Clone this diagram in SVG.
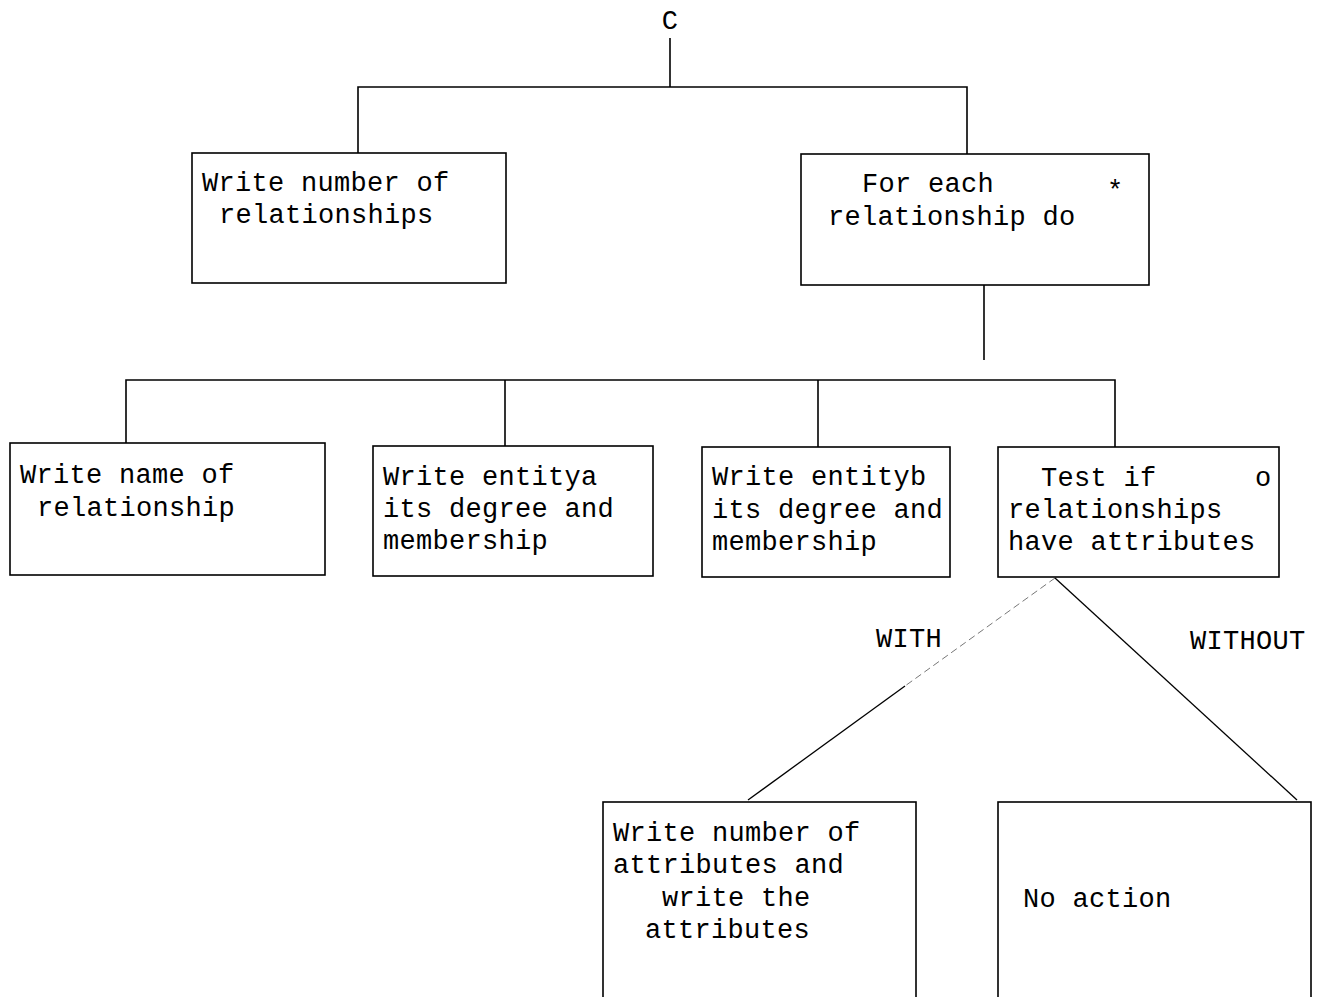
<svg xmlns="http://www.w3.org/2000/svg" width="1321" height="997" viewBox="0 0 1321 997">
  <style>
    .box { fill: none; stroke: #000; stroke-width: 1.6; }
    .ln { fill: none; stroke: #000; stroke-width: 1.6; }
    .thin { fill: none; stroke: #000; stroke-width: 1.3; }
    .faint { fill: none; stroke: #777; stroke-width: 1; stroke-dasharray: 7 4; }
    text { font-family: "Liberation Mono", "DejaVu Sans Mono", monospace; font-size: 27px; letter-spacing: 0.3px; fill: #000; }
  </style>
  <rect width="1321" height="997" fill="#fff"/>

  <text x="670" y="29" text-anchor="middle">C</text>

  <g id="connectors">
    <path class="ln" d="M670 38 V87"/>
    <path class="ln" d="M358 153 V87 H967 V154"/>
    <path class="ln" d="M984 285 V360"/>
    <path class="ln" d="M126 443 V380 H1115 V447"/>
    <path class="ln" d="M505 380 V446"/>
    <path class="ln" d="M818 380 V447"/>
    <path class="faint" d="M1055 578 L905 686"/>
    <path class="thin" d="M905 686 L748 800"/>
    <path class="thin" d="M1055 578 L1297 800"/>
    <text x="876" y="647">WITH</text>
    <text x="1190" y="649">WITHOUT</text>
  </g>

  <g id="write-count">
    <rect class="box" x="192" y="153" width="314" height="130"/>
    <text x="202" y="191">Write number of</text>
    <text x="219" y="223">relationships</text>
  </g>

  <g id="for-each">
    <rect class="box" x="801" y="154" width="348" height="131"/>
    <text x="862" y="192">For each</text>
    <text x="1107" y="199">*</text>
    <text x="828" y="225">relationship do</text>
  </g>

  <g id="write-name">
    <rect class="box" x="10" y="443" width="315" height="132"/>
    <text x="20" y="483">Write name of</text>
    <text x="37" y="516">relationship</text>
  </g>

  <g id="write-entitya">
    <rect class="box" x="373" y="446" width="280" height="130"/>
    <text x="383" y="485">Write entitya</text>
    <text x="383" y="517">its degree and</text>
    <text x="383" y="549">membership</text>
  </g>

  <g id="write-entityb">
    <rect class="box" x="702" y="447" width="248" height="130"/>
    <text x="712" y="485">Write entityb</text>
    <text x="712" y="518">its degree and</text>
    <text x="712" y="550">membership</text>
  </g>

  <g id="test-attributes">
    <rect class="box" x="998" y="447" width="281" height="130"/>
    <text x="1041" y="486">Test if</text>
    <text x="1255" y="486">o</text>
    <text x="1008" y="518">relationships</text>
    <text x="1008" y="550">have attributes</text>
  </g>

  <g id="write-attributes">
    <rect class="box" x="603" y="802" width="313" height="200"/>
    <text x="613" y="841">Write number of</text>
    <text x="613" y="873">attributes and</text>
    <text x="662" y="906">write the</text>
    <text x="645" y="938">attributes</text>
  </g>

  <g id="no-action">
    <rect class="box" x="998" y="802" width="313" height="200"/>
    <text x="1023" y="907">No action</text>
  </g>
</svg>
